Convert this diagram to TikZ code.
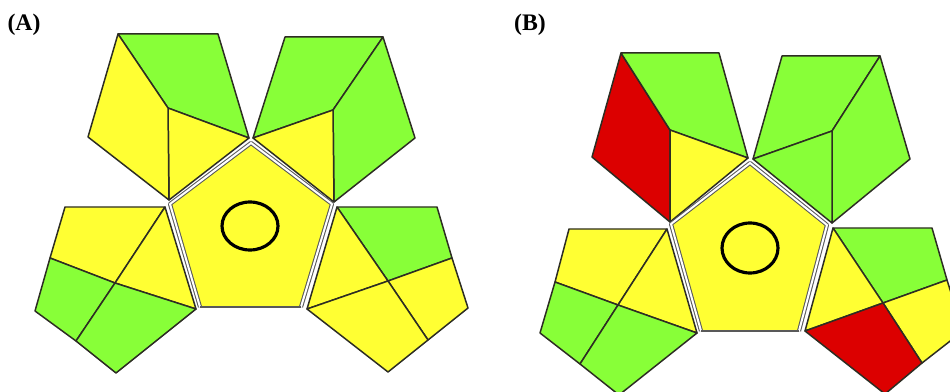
\documentclass[tikz,border=0pt]{standalone}
\usepackage{fontspec}
\setmainfont{Liberation Serif}
\usetikzlibrary{positioning}
\definecolor{petgreen}{RGB}{136,255,56}
\definecolor{petyellow}{RGB}{255,255,51}
\definecolor{petred}{RGB}{220,0,0}
\definecolor{edgedark}{RGB}{45,45,35}
\newcommand{\facet}[2]{%
  \filldraw[fill=#1,draw=edgedark,line join=round] #2 -- cycle;
}
% central face: lower-left, upper-left, top, upper-right, lower-right, centre, radii
\newcommand{\hub}[8]{%
  \fill[petyellow] #1--#2--#3--#4--#5--cycle;
  \draw[draw=gray!70!black,double=white,double distance=.4mm,
    line width=.6pt,line join=round] #1--#2--#3--#4--#5;
  \draw[draw=gray!70!black,line width=.7pt] #1--#5;
  \draw[line width=1.8pt] #6 ellipse [x radius=#7,y radius=#8];
}
\begin{document}
\begin{tikzpicture}[x=.2mm,y=-.2mm,line width=.85pt]
    \useasboundingbox (0,0) rectangle (950,392);
    \clip (0,0) rectangle (950,392);
    \node[font=\bfseries\fontsize{13.5}{15}\selectfont] (labA) at (24,25) {(A)};
    \node[font=\bfseries\fontsize{13.5}{15}\selectfont] (labB) at (530,25) {(B)};
    % panel A
    \facet{petgreen}{(118,34)--(218,34)--(249,138)--(168,108)}
    \facet{petyellow}{(168,108)--(249,138)--(169,200)}
    \facet{petyellow}{(118,34)--(168,108)--(169,200)--(88,137)}
    \facet{petgreen}{(285,37)--(383,37)--(333,110)--(253,138)}
    \facet{petgreen}{(383,37)--(415,138)--(334,202)--(333,110)}
    \facet{petyellow}{(333,110)--(334,202)--(253,138)}
    \facet{petyellow}{(65,207)--(165,207)--(115,283)--(50,258)}
    \facet{petyellow}{(165,207)--(196,309)--(115,283)}
    \facet{petgreen}{(50,258)--(115,283)--(76,341)--(35,311)}
    \facet{petgreen}{(115,283)--(196,309)--(116,373)--(76,341)}
    \facet{petgreen}{(337,207)--(437,207)--(452,258)--(388,281)}
    \facet{petyellow}{(337,207)--(388,281)--(307,309)}
    \facet{petyellow}{(388,281)--(452,258)--(468,308)--(428,340)}
    \facet{petyellow}{(307,309)--(388,281)--(428,340)--(388,372)}
    \hub{(200,307)}{(170,204)}{(251,143)}{(332,204)}{(301,307)}{(250,226)}{28}{24}
    % panel B
    \facet{petred}{(621,53)--(670,130)--(670,222)--(592,157)}
    \facet{petgreen}{(621,53)--(719,53)--(748,158)--(670,130)}
    \facet{petyellow}{(670,130)--(748,158)--(670,222)}
    \facet{petgreen}{(782,56)--(880,56)--(832,131)--(753,159)}
    \facet{petgreen}{(880,56)--(910,159)--(832,223)--(832,131)}
    \facet{petgreen}{(832,131)--(832,223)--(753,159)}
    \facet{petyellow}{(569,229)--(667,229)--(618,305)--(555,282)}
    \facet{petyellow}{(667,229)--(697,333)--(618,305)}
    \facet{petgreen}{(555,282)--(618,305)--(580,364)--(540,333)}
    \facet{petgreen}{(618,305)--(697,333)--(619,395)--(580,364)}
    \facet{petgreen}{(833,228)--(932,228)--(947,280)--(883,303)}
    \facet{petyellow}{(833,228)--(883,303)--(805,331)}
    \facet{petyellow}{(883,303)--(947,280)--(963,331)--(922,363)}
    \facet{petred}{(805,331)--(883,303)--(922,363)--(885,394)}
    \hub{(701,331)}{(671,224)}{(750,163)}{(827,225)}{(799,331)}{(750,248)}{28}{25}
  \end{tikzpicture}
\end{document}
